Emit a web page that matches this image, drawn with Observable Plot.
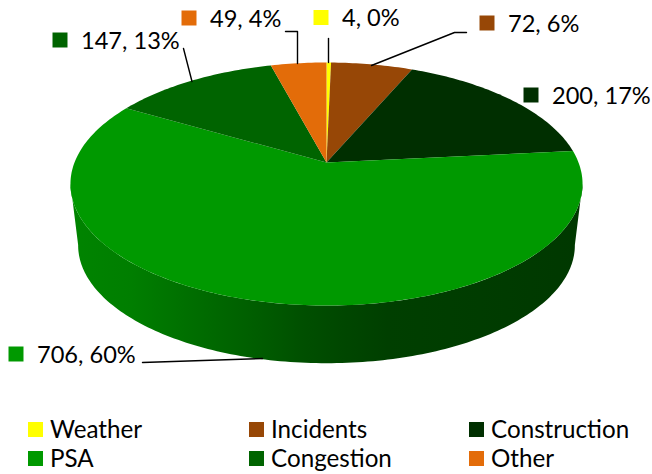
<!DOCTYPE html>
<html>
<head>
<meta charset="utf-8">
<script src="https://cdn.jsdelivr.net/npm/d3@7"></script>
<script src="https://cdn.jsdelivr.net/npm/@observablehq/plot@0.6"></script>
<style>
  html, body { margin: 0; padding: 0; background: #fff; }
  body { width: 652px; height: 474px; overflow: hidden; font-family: Lato, sans-serif; color: #000; }
  svg { display: block; }
  #legend { display: grid; grid-template-columns: 221px 220px 170px; margin: 5px 0 0 28px; font-size: 24.2px; line-height: 28.5px; }
  #legend div { display: flex; align-items: center; white-space: nowrap; }
  #legend i { display: block; width: 15px; height: 15px; margin: 1px 7px 0 0; flex: none; }
</style>
</head>
<body>
<div id="chart"></div>
<div id="legend"></div>
<script>
// Data, clockwise from twelve o'clock
const categories = ["Weather", "Incidents", "Construction", "PSA", "Congestion", "Other"];
const counts     = [4, 72, 200, 706, 147, 49];
const percents   = [0, 6, 17, 60, 13, 4];
const colors     = ["#FFFF00", "#974706", "#002F00", "#009900", "#006400", "#E36C09"];
const legendOrder = ["Weather", "Incidents", "Construction", "PSA", "Congestion", "Other"];

// Data label placement (swatch centre; text starts 21px to its right)
const labelX = [320.5, 486.5, 530.5, 15.5, 59.5, 188.5];
const labelY = [17, 22.5, 94.5, 353.5, 39.5, 17.5];

// Leader lines, one list per category that has one
const leaders = [
  {c: "Weather",    pts: [[328, 38], [328, 62]]},
  {c: "Incidents",  pts: [[466, 32], [454, 32], [371, 65]]},
  {c: "PSA",        pts: [[142, 362], [262, 358]]},
  {c: "Congestion", pts: [[183, 48], [191.5, 81]]},
  {c: "Other",      pts: [[285, 31], [297, 31], [297, 63]]}
];

// Perspective disc model
const cx = 326, apexY = 162, Rx = 252, Ry = 117.7, tilt = 0.177;
const rim = (deg, scale = 1, dy = 0) => {
  const t = deg * Math.PI / 180, w = 1 + tilt * Math.cos(t);
  return {x: cx + scale * Rx * Math.sin(t) / w, y: apexY + dy - scale * Ry * Math.cos(t) / w};
};

const total = d3.sum(counts);
let running = 0;
const slices = categories.map((name, i) => {
  const a0 = running / total * 360;
  running += counts[i];
  return {name, color: colors[i], a0, a1: running / total * 360};
});

const topPts = slices.flatMap(s => {
  const n = Math.max(2, Math.ceil(s.a1 - s.a0));
  const arc = d3.range(n + 1).map(k => rim(s.a0 + (s.a1 - s.a0) * k / n));
  return [{x: cx, y: apexY}, ...arc].map(p => ({...p, name: s.name, fill: s.color}));
});

const sideTop = d3.range(100, 261).map(d => rim(d));
const sideBottom = d3.range(260, 99, -1).map(d => rim(d, 0.97, 62));
const sidePts = [...sideTop, ...sideBottom];

const labels = categories.map((c, i) => ({
  x: labelX[i], y: labelY[i], color: colors[i], text: `${counts[i]}, ${percents[i]}%`
}));
const leaderPts = leaders.flatMap(l => l.pts.map(([x, y]) => ({x, y, c: l.c})));

const sideStops = [
  [0, "#008400"], [0.12, "#007E00"], [0.25, "#006C00"], [0.37, "#005C00"],
  [0.45, "#005000"], [0.52, "#004800"], [0.62, "#003F00"], [0.8, "#003C00"], [1, "#003800"]
];

const gradient = () => {
  const defs = d3.create("svg:defs");
  const g = defs.append("linearGradient").attr("id", "side").attr("x1", 0).attr("x2", 1).attr("y1", 0).attr("y2", 0);
  sideStops.forEach(([o, c]) => g.append("stop").attr("offset", o).attr("stop-color", c));
  return defs.node();
};

const plot = Plot.plot({
  width: 652, height: 410,
  margin: 0,
  x: {domain: [0, 652], range: [0, 652], axis: null},
  y: {domain: [0, 410], range: [0, 410], axis: null},
  style: {fontFamily: "Lato, sans-serif", background: "#fff"},
  marks: [
    gradient,
    Plot.line(sidePts, {x: "x", y: "y", fill: "url(#side)", stroke: "none", curve: "linear"}),
    Plot.line(topPts, {x: "x", y: "y", z: "name", fill: "fill", stroke: "none", curve: "linear"}),
    Plot.line(leaderPts, {x: "x", y: "y", z: "c", stroke: "#000", strokeWidth: 1.4, curve: "linear"}),
    Plot.dot(labels, {x: "x", y: "y", fill: "color", symbol: "square", r: 8.46, stroke: "none"}),
    Plot.text(labels, {x: "x", y: "y", dx: 21, dy: 1, text: "text", textAnchor: "start", fontSize: 23.6, fill: "#000"})
  ]
});
document.getElementById("chart").append(plot);

const legend = d3.select("#legend");
legendOrder.forEach(name => {
  const row = legend.append("div");
  row.append("i").style("background", colors[categories.indexOf(name)]);
  row.append("span").text(name);
});
</script>
</body>
</html>
